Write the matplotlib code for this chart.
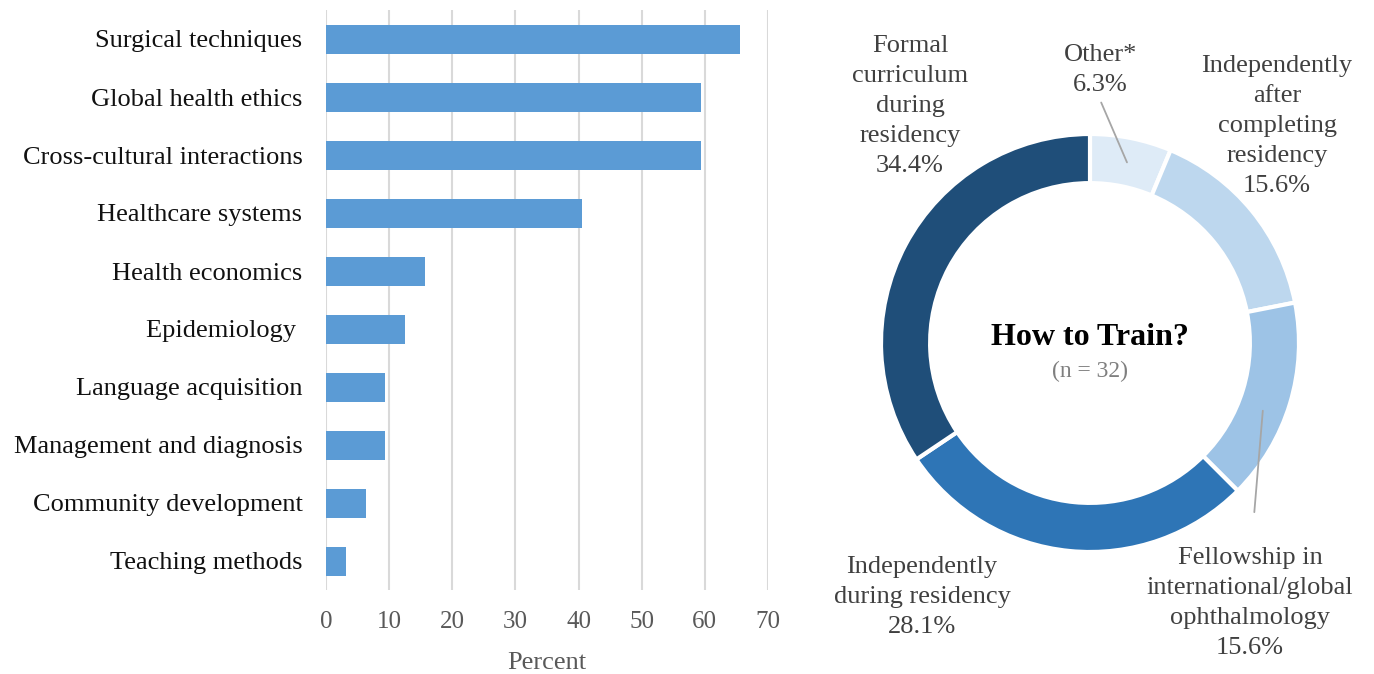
import matplotlib
matplotlib.use("Agg")
import matplotlib.pyplot as plt

plt.rcParams['font.family'] = ['Liberation Serif', 'DejaVu Serif']

# left panel: topics wanted in training (percent of n = 32)
topics = ["Surgical techniques", "Global health ethics", "Cross-cultural interactions",
          "Healthcare systems", "Health economics", "Epidemiology ",
          "Language acquisition", "Management and diagnosis",
          "Community development", "Teaching methods"]
topic_pct = [65.6, 59.4, 59.4, 40.6, 15.6, 12.5, 9.4, 9.4, 6.3, 3.1]
x_ticks = [0, 10, 20, 30, 40, 50, 60, 70]

# right panel: how to train
train_labels = ["Other*\n6.3%",
                "Independently\nafter\ncompleting\nresidency\n15.6%",
                "Fellowship in\ninternational/global\nophthalmology\n15.6%",
                "Independently\nduring residency\n28.1%",
                "Formal\ncurriculum\nduring\nresidency\n34.4%"]
train_pct = [6.3, 15.6, 15.6, 28.1, 34.4]
train_colors = ["#deebf7", "#bdd7ee", "#9dc3e6", "#2e75b6", "#1f4e79"]

W, H = 1374, 674
fig = plt.figure(figsize=(W / 100, H / 100), dpi=100)

# ---- bar chart
ax = fig.add_axes([326 / W, (H - 590) / H, (768 - 326) / W, 580 / H])
ypos = list(range(len(topics)))
ax.barh(ypos, topic_pct, height=0.5, color="#5b9bd5", zorder=3)
ax.set_ylim(len(topics) - 0.5, -0.5)
ax.set_xlim(0, 70)
ax.set_xticks(x_ticks)
ax.set_yticks(ypos)
ax.set_yticklabels(topics, fontsize=19, color="#111111")
ax.tick_params(axis="x", labelsize=18, labelcolor="#595959", length=0, pad=15)
ax.tick_params(axis="y", length=0, pad=17)
ax.grid(axis="x", color="#d9d9d9", linewidth=1.5, zorder=0)
for s in ax.spines.values():
    s.set_visible(False)
ax.set_xlabel("Percent", fontsize=19, color="#595959", labelpad=14)

# ---- donut
cx, cy, half = 1090, 343, 280
pax = fig.add_axes([(cx - half) / W, (H - cy - half) / H, 2 * half / W, 2 * half / H])
R = 209 / half
pax.pie(train_pct, colors=train_colors, startangle=90, counterclock=False, radius=R,
        wedgeprops=dict(width=R * 0.235, edgecolor="white", linewidth=3))
pax.set_xlim(-1, 1)
pax.set_ylim(-1, 1)
pax.set_aspect("equal")
pax.axis("off")

label_pos = [(0.036, 0.975), (0.668, 0.775), (0.571, -0.93), (-0.60, -0.908), (-0.643, 0.847)]
for lab, (lx, ly) in zip(train_labels, label_pos):
    pax.text(lx, ly, lab, ha="center", va="center", fontsize=19, color="#404040",
             linespacing=1.47, clip_on=False)

# leader lines
pax.annotate("", xy=(0.136, 0.636), xytext=(0.036, 0.868),
             arrowprops=dict(arrowstyle="-", color="#a6a6a6", lw=1.3))
pax.annotate("", xy=(0.618, -0.232), xytext=(0.586, -0.614),
             arrowprops=dict(arrowstyle="-", color="#a6a6a6", lw=1.3))

pax.text(0, 0.02, "How to Train?", ha="center", va="center", fontsize=23,
         fontweight="bold", color="black")
pax.text(0, -0.1, "(n = 32)", ha="center", va="center", fontsize=17, color="#7f7f7f")

fig.savefig("out.png", dpi=100, facecolor="white")
